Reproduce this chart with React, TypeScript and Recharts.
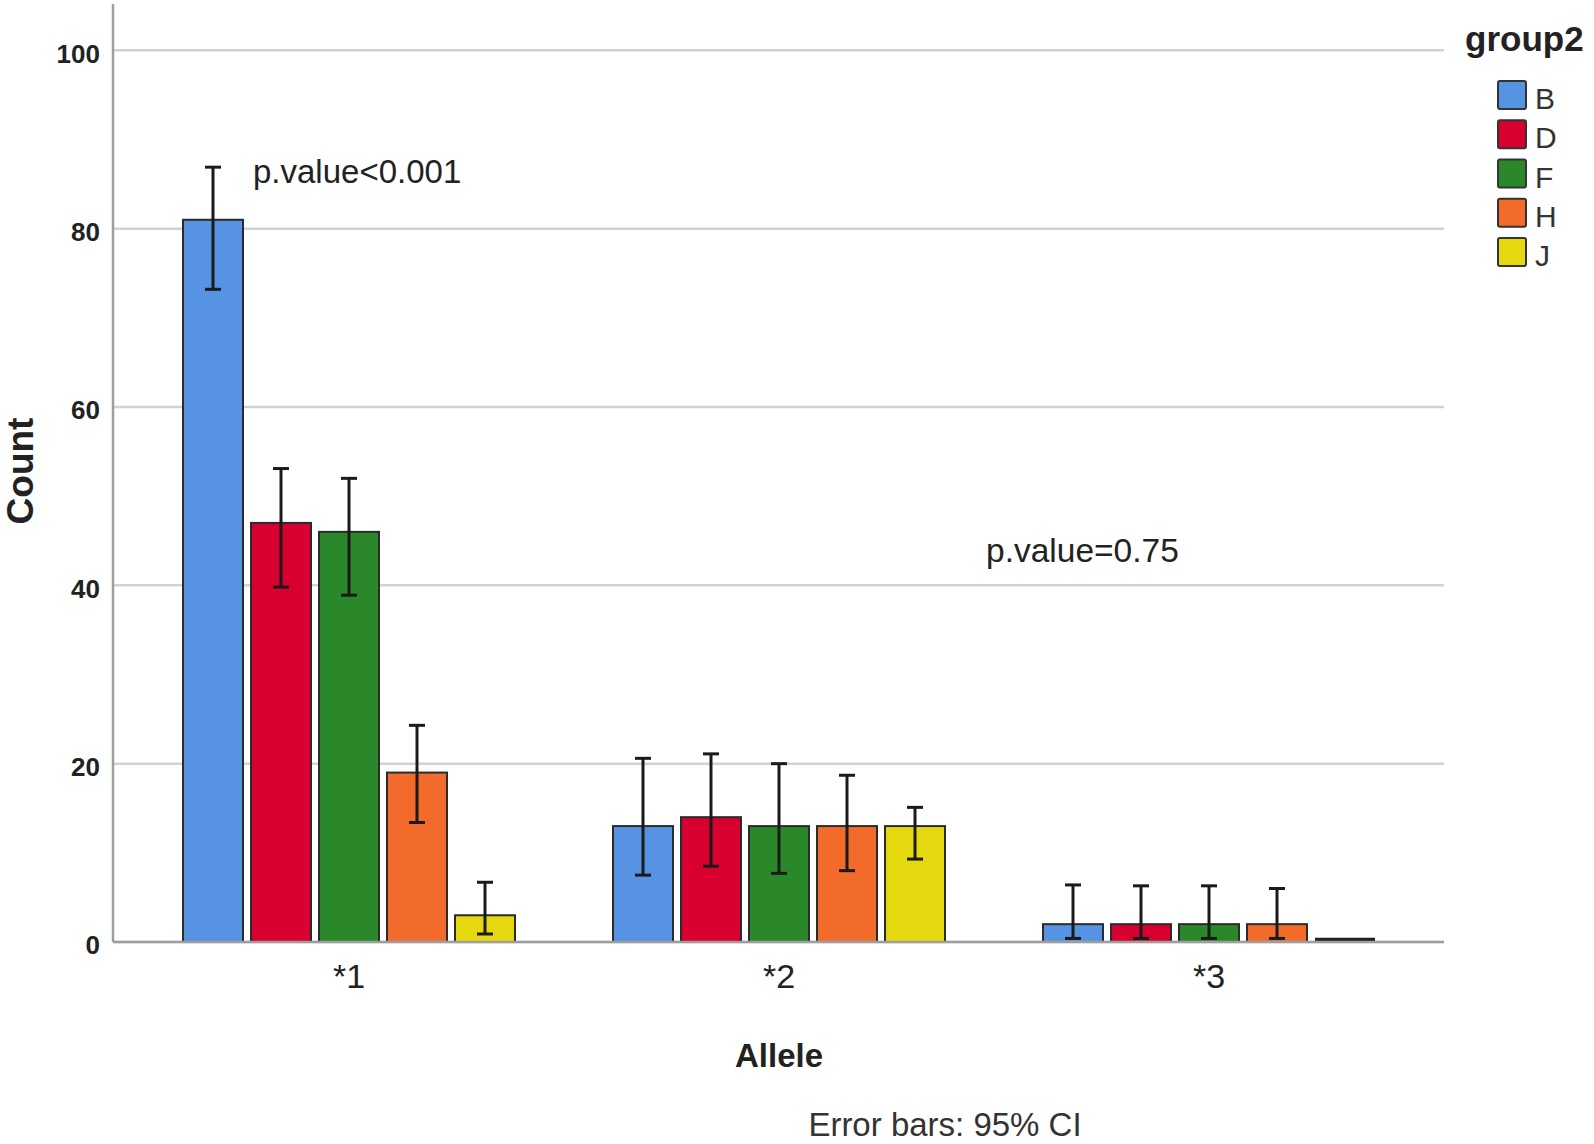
import { Bar, BarChart, CartesianGrid, ErrorBar, Legend, XAxis, YAxis } from "recharts";

const alleles = ["*1", "*2", "*3"];
const groups = ["B", "D", "F", "H", "J"];
const groupColors = ["#5694E3", "#D70030", "#2A882A", "#F36B2A", "#E5D80F"];

// counts per allele
const countB = [81, 13, 2];
const countD = [47, 14, 2];
const countF = [46, 13, 2];
const countH = [19, 13, 2];
const countJ = [3, 13, 0];

// 95% CI bounds per allele
const lowerB = [73.2, 7.5, 0.4];
const upperB = [86.9, 20.6, 6.4];
const lowerD = [39.8, 8.5, 0.4];
const upperD = [53.1, 21.1, 6.3];
const lowerF = [38.9, 7.7, 0.4];
const upperF = [52.0, 20.0, 6.3];
const lowerH = [13.4, 8.0, 0.4];
const upperH = [24.3, 18.7, 6.0];
const lowerJ = [0.9, 9.3, 0];
const upperJ = [6.7, 15.1, 0];

const yTicks = [0, 20, 40, 60, 80, 100];

const series = [
  { key: "B", counts: countB, lower: lowerB, upper: upperB },
  { key: "D", counts: countD, lower: lowerD, upper: upperD },
  { key: "F", counts: countF, lower: lowerF, upper: upperF },
  { key: "H", counts: countH, lower: lowerH, upper: upperH },
  { key: "J", counts: countJ, lower: lowerJ, upper: upperJ },
];

const rows = alleles.map((allele, i) => {
  const row: Record<string, any> = { allele };
  series.forEach((s) => {
    row[s.key] = s.counts[i];
    // no interval at all -> no error bar
    row["err" + s.key] =
      s.upper[i] > s.lower[i] ? [s.counts[i] - s.lower[i], s.upper[i] - s.counts[i]] : null;
  });
  return row;
});

const FONT = "'Liberation Sans', Arial, sans-serif";

function OutlinedBar(props: any) {
  const { x, y, width, height, fill } = props;
  if (!height) {
    // zero count: SPSS still draws a flat dark bar on the baseline
    return <line x1={x} x2={x + width} y1={y - 2} y2={y - 2} stroke="#222" strokeWidth={4.5} />;
  }
  return <rect x={x} y={y} width={width} height={height} fill={fill} stroke="#2b2b2b" strokeWidth={2} />;
}

function GroupLegend(props: any) {
  const items = props.payload ?? [];
  return (
    <svg width={134} height={280} style={{ fontFamily: FONT, display: "block" }}>
      <text x={5} y={51} fontSize={35} fontWeight={700} fill="#222">
        group2
      </text>
      {items.map((item: any, i: number) => {
        const top = 81 + i * 39.25;
        return (
          <g key={item.value}>
            <rect x={38} y={top} width={28} height={28} rx={2} fill={item.color} stroke="#333" strokeWidth={2} />
            <text x={75} y={top + 28} fontSize={30} fill="#333">
              {item.value}
            </text>
          </g>
        );
      })}
    </svg>
  );
}

export default function App() {
  return (
    <div style={{ position: "absolute", left: 0, top: 0, width: 1594, height: 1144, background: "#fff", fontFamily: FONT }}>
      <BarChart
        width={1594}
        height={1144}
        data={rows}
        margin={{ top: 4, right: 150, bottom: 142, left: 0 }}
        barSize={60}
        barGap={8}
      >
        <CartesianGrid vertical={false} horizontalValues={yTicks} stroke="#d2d2d2" strokeWidth={2.5} />
        <XAxis
          dataKey="allele"
          height={60}
          padding={{ left: 21, right: 20 }}
          axisLine={{ stroke: "#9e9e9e", strokeWidth: 2.5 }}
          tickLine={false}
          tickMargin={16}
          tick={{ fontSize: 34, fill: "#222", fontFamily: FONT }}
        />
        <YAxis
          width={113}
          domain={[0, 105.2]}
          ticks={yTicks}
          axisLine={{ stroke: "#9e9e9e", strokeWidth: 2.5 }}
          tickLine={false}
          tickMargin={7}
          tick={{ fontSize: 26, fontWeight: 700, fill: "#222", fontFamily: FONT, dy: 3 }}
        />
        <Legend
          layout="vertical"
          align="center"
          verticalAlign="middle"
          content={<GroupLegend />}
          wrapperStyle={{ position: "absolute", left: 1460, top: 0, width: 134, height: 280 }}
        />
        {groups.map((g, i) => (
          <Bar key={g} dataKey={g} name={g} fill={groupColors[i]} shape={<OutlinedBar />} isAnimationActive={false}>
            <ErrorBar
              dataKey={"err" + g}
              direction="y"
              width={8}
              stroke="#1a1a1a"
              strokeWidth={3}
              isAnimationActive={false}
            />
          </Bar>
        ))}
      </BarChart>
      <svg
        width={1594}
        height={1144}
        style={{ position: "absolute", left: 0, top: 0, pointerEvents: "none", fontFamily: FONT }}
      >
        <text x={253} y={183} fontSize={33} fill="#222">
          p.value&lt;0.001
        </text>
        <text x={986} y={562} fontSize={33.5} fill="#222">
          p.value=0.75
        </text>
        <text x={779} y={1067} fontSize={33} fontWeight={700} fill="#222" textAnchor="middle">
          Allele
        </text>
        <text x={945} y={1136} fontSize={33} fill="#333" textAnchor="middle">
          Error bars: 95% CI
        </text>
        <text
          x={20}
          y={471}
          fontSize={37}
          fontWeight={700}
          fill="#222"
          textAnchor="middle"
          dominantBaseline="central"
          transform="rotate(-90 20 471)"
        >
          Count
        </text>
      </svg>
    </div>
  );
}
